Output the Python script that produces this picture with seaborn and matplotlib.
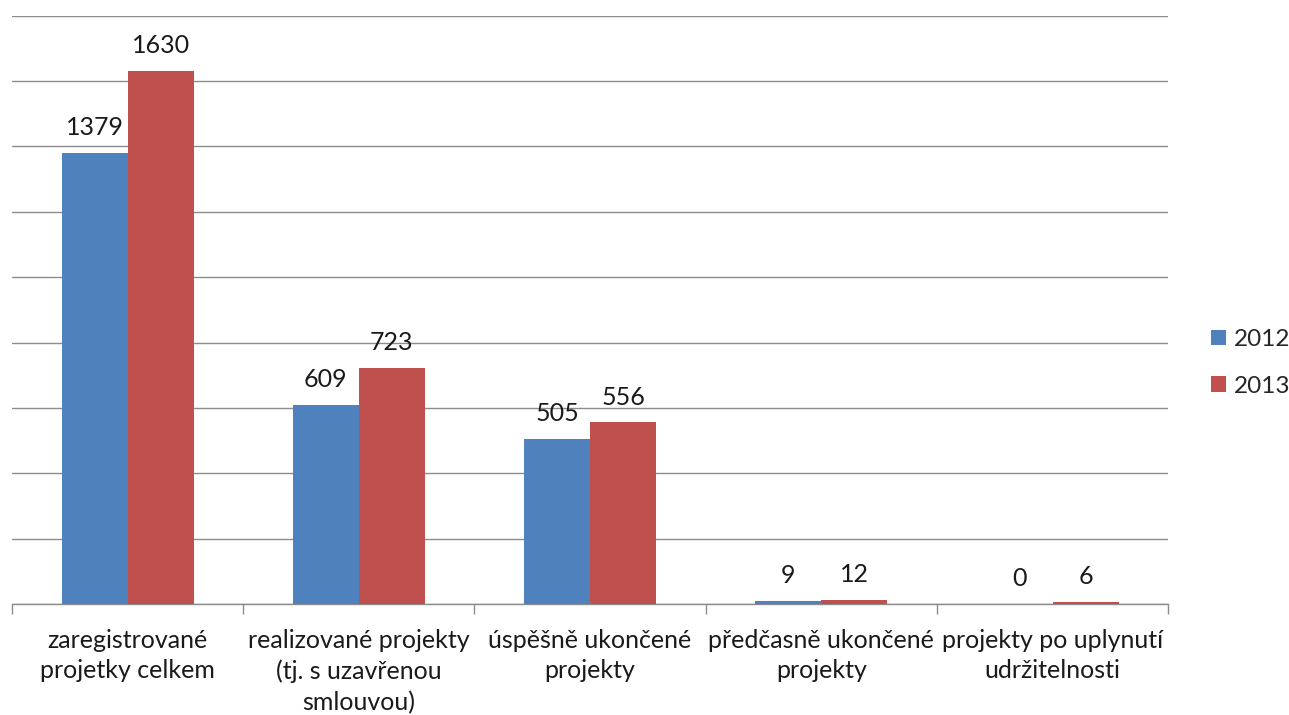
import matplotlib
matplotlib.use("Agg")
from matplotlib import pyplot as plt
import seaborn as sns
import pandas as pd

categories = [
    "zaregistrované\nprojetky celkem",
    "realizované projekty\n(tj. s uzavřenou\nsmlouvou)",
    "úspěšně ukončené\nprojekty",
    "předčasně ukončené\nprojekty",
    "projekty po uplynutí\nudržitelnosti",
]
years = ["2012", "2013"]
values_2012 = [1379, 609, 505, 9, 0]
values_2013 = [1630, 723, 556, 12, 6]
colors = ["#4F81BD", "#C0504D"]

df = pd.DataFrame({
    "Kategorie": categories * 2,
    "Rok": [years[0]] * 5 + [years[1]] * 5,
    "Počet": values_2012 + values_2013,
})

sns.set_style("white")
plt.rcParams["font.family"] = ["Lato", "DejaVu Sans"]
fs = 18

fig = plt.figure(figsize=(12.89, 7.15), dpi=100)
ax = fig.add_axes([0.0093, 0.155, 0.897, 0.823])

sns.barplot(data=df, x="Kategorie", y="Počet", hue="Rok", palette=colors,
            width=0.57, saturation=1, linewidth=0, ax=ax, zorder=3)

ax.set_ylim(0, 1800)
ax.set_yticks(range(0, 1801, 200))
ax.set_yticklabels([])
ax.tick_params(axis="y", length=0)
ax.yaxis.grid(True, color="#8c8c8c", linewidth=1.0, zorder=0)
ax.set_axisbelow(True)
ax.set_xlim(-0.5, 4.5)

# category boundary ticks
ax.set_xticks([i + 0.5 for i in range(-1, 5)], minor=True)
ax.tick_params(axis="x", which="minor", bottom=True, length=7,
               color="#8c8c8c", width=1, direction="out")
ax.tick_params(axis="x", which="major", length=0, pad=18, labelsize=fs,
               labelcolor="#1a1a1a")
for lbl in ax.get_xticklabels():
    lbl.set_ha("center")
    lbl.set_multialignment("center")
    lbl.set_linespacing(1.38)

for s in ["left", "right", "top"]:
    ax.spines[s].set_visible(False)
ax.spines["bottom"].set_color("#8c8c8c")
ax.spines["bottom"].set_linewidth(1.0)

ax.set_xlabel("")
ax.set_ylabel("")

for cont in ax.containers:
    ax.bar_label(cont, padding=10, fontsize=fs, color="#1a1a1a")

handles, labels = ax.get_legend_handles_labels()
ax.legend(handles, labels, loc="center left", bbox_to_anchor=(1.037, 0.41),
          frameon=False, fontsize=17.5, handlelength=0.6, handleheight=0.6,
          handletextpad=0.35, labelspacing=1.05, borderpad=0, borderaxespad=0)

fig.savefig("out.png", dpi=100)
